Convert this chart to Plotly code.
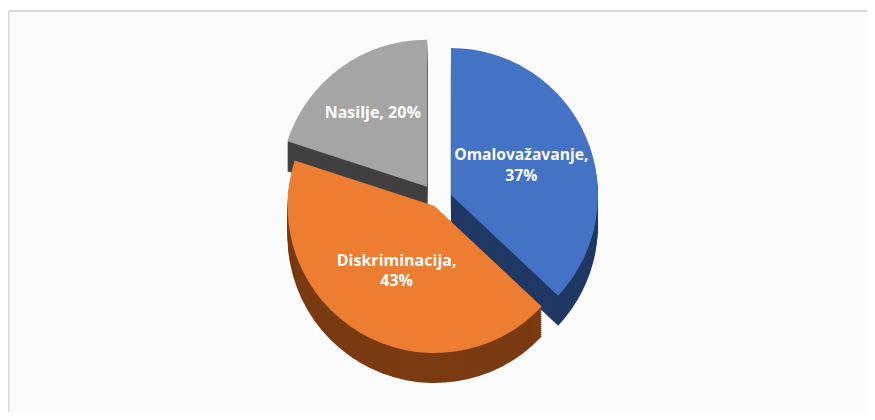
import plotly.graph_objects as go

# Data
categories = ["Omalovažavanje", "Diskriminacija", "Nasilje"]
values = [37, 43, 20]
label_sep = ["<br>", "<br>", " "]

top_colors = ["#4472C4", "#ED7D31", "#A5A5A5"]
side_colors = ["#1F3864", "#7A3A12", "#404040"]
pulls = [0.10, 0.04, 0.12]

W, H = 859, 404
texts = [f"{c},{s}{v}%" for c, v, s in zip(categories, values, label_sep)]

fig = go.Figure()

top_y0, top_y1 = 0.115, 0.93
depth_px = 30
steps = 15
for i in range(steps, 0, -1):
    dy = depth_px * i / steps / H
    fig.add_trace(go.Pie(
        values=values, labels=categories, sort=False, direction="clockwise",
        rotation=0, pull=pulls,
        marker=dict(colors=side_colors, line=dict(width=0)),
        textinfo="none", hoverinfo="skip", showlegend=False,
        domain=dict(x=[0, 1], y=[top_y0 - dy, top_y1 - dy]),
    ))

fig.add_trace(go.Pie(
    values=values, labels=categories, sort=False, direction="clockwise",
    rotation=0, pull=pulls,
    marker=dict(colors=top_colors, line=dict(width=0)),
    text=texts, textinfo="text", textposition="inside",
    insidetextorientation="horizontal",
    textfont=dict(family="Open Sans", size=16, color="white", weight="bold"),
    hoverinfo="label+percent", showlegend=False,
    domain=dict(x=[0, 1], y=[top_y0, top_y1]),
))

fig.update_layout(
    width=W, height=H,
    margin=dict(l=0, r=0, t=0, b=0),
    paper_bgcolor="white",
    shapes=[
        dict(type="rect", xref="paper", yref="paper",
             x0=0, x1=1.2, y0=-0.2, y1=1 - 3 / H,
             line=dict(width=0), fillcolor="#fbfbfb", layer="below"),
        dict(type="line", xref="paper", yref="paper",
             x0=0.5 / W, x1=1.2, y0=1 - 3 / H, y1=1 - 3 / H,
             line=dict(color="#d9d9d9", width=2), layer="below"),
        dict(type="line", xref="paper", yref="paper",
             x0=0.5 / W, x1=0.5 / W, y0=-0.2, y1=1 - 3 / H,
             line=dict(color="#d9d9d9", width=2), layer="below"),
    ],
)

fig.write_html("out.html")
